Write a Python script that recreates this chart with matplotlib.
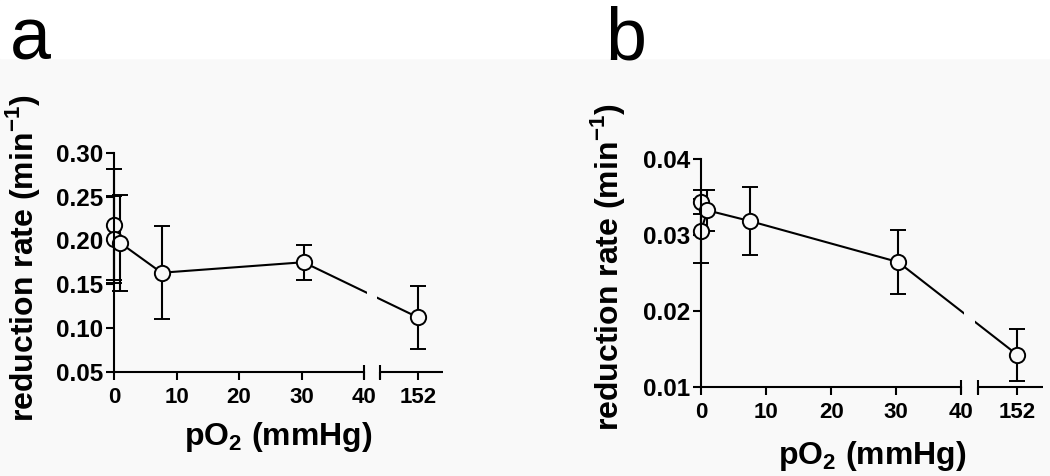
"""Reduction rate vs pO2, two panels with broken x axes."""

import numpy as np
import matplotlib
matplotlib.use("Agg")
import matplotlib.pyplot as plt
from matplotlib.patches import Rectangle

plt.rcParams['font.family'] = ['Liberation Sans', 'DejaVu Sans']
plt.rcParams['font.weight'] = 'bold'
plt.rcParams['axes.labelweight'] = 'bold'
plt.rcParams['mathtext.fontset'] = 'custom'
plt.rcParams['mathtext.rm'] = 'Liberation Sans:bold'
plt.rcParams['mathtext.bf'] = 'Liberation Sans:bold'

# panel a
po2_a = [0, 0, 1, 7.6, 30.3, 152]
rate_a = [0.218, 0.201, 0.197, 0.163, 0.175, 0.112]
err_a = [0.063, 0.050, 0.055, 0.053, 0.020, 0.036]

# panel b
po2_b = [0, 0, 1, 7.5, 30.3, 152]
rate_b = [0.0343, 0.0305, 0.0332, 0.0318, 0.0264, 0.0142]
err_b = [0.0016, 0.0042, 0.0027, 0.0045, 0.0042, 0.0034]

xticks = [0, 10, 20, 30, 40, 140, 152]
xticklabels = ['0', '10', '20', '30', '40', '', '152']
yticks_a = [0.05, 0.10, 0.15, 0.20, 0.25, 0.30]
yticks_b = [0.01, 0.02, 0.03, 0.04]

BG = '#f9f9f9'


def fwd(x):
    x = np.asarray(x, float)
    return np.where(x <= 40, x,
                    np.where(x < 140, 40 + (x - 40) * 0.026, 42.6 + (x - 140) * 0.5))


def inv(y):
    y = np.asarray(y, float)
    return np.where(y <= 40, y,
                    np.where(y < 42.6, 40 + (y - 40) / 0.026, 140 + (y - 42.6) / 0.5))


def draw_panel(ax, x, y, err, yticks, label_xy, xlabelpad):
    ax.set_xscale('function', functions=(fwd, inv))
    ax.errorbar(x, y, yerr=err, fmt='o-', color='k', lw=1.5, ms=11,
                mfc=BG, mec='k', mew=1.4, elinewidth=1.5, capsize=5.5,
                capthick=1.5, clip_on=False, zorder=2)
    # gap in the connecting line at the axis break
    ax.axvspan(55, 120, ymin=0.03, ymax=1, color=BG, lw=0, zorder=2.3)

    ax.set_xlim(0, 160)
    ax.set_ylim(yticks[0], yticks[-1])
    ax.set_facecolor('none')
    for s in ['top', 'right']:
        ax.spines[s].set_visible(False)
    for s in ['left', 'bottom']:
        ax.spines[s].set_linewidth(1.5)
    ax.spines['bottom'].set_bounds(0, 40)
    xt = ax.get_xaxis_transform()
    ax.plot([140, 160], [0, 0], color='k', lw=1.5, transform=xt,
            clip_on=False, solid_capstyle='butt')
    ax.plot([40, 140], [0, 0], ls='none', marker='|', ms=10, mew=1.5,
            color='k', transform=xt, clip_on=False)

    ax.set_xticks(xticks)
    ax.set_xticklabels(xticklabels)
    ax.xaxis.set_minor_locator(plt.NullLocator())
    ax.set_yticks(yticks)
    ax.set_yticklabels([f'{v:.2f}' for v in yticks], fontsize=17.5)
    ax.tick_params(axis='both', direction='out', length=5.5, width=1.5, pad=2)
    ax.tick_params(axis='x', labelsize=16, pad=5.5)

    ax.set_xlabel(r'pO$_{\mathbf{2}}$ (mmHg)', fontsize=23, fontweight='bold',
                  labelpad=xlabelpad)
    ax.set_ylabel(r'reduction rate (min$^{\mathbf{-1}}$)', fontsize=23,
                  fontweight='bold')
    ax.yaxis.set_label_coords(*label_xy)


fig = plt.figure(figsize=(10.5, 4.76), dpi=100, facecolor=BG)
fig.patches.append(Rectangle((0, 1 - 58 / 476), 1, 58 / 476,
                             transform=fig.transFigure, color='white', zorder=0))

ax_a = fig.add_axes([0.1086, 0.2191, 0.3133, 0.460])
ax_b = fig.add_axes([0.6676, 0.1876, 0.3260, 0.479])

draw_panel(ax_a, po2_a, rate_a, err_a, yticks_a, (-0.22, 0.52), 9)
draw_panel(ax_b, po2_b, rate_b, err_b, yticks_b, (-0.215, 0.526), 11.5)

fig.text(0.009, 0.874, 'a', fontsize=53, fontweight='normal', va='baseline')
fig.text(0.576, 0.874, 'b', fontsize=53, fontweight='normal', va='baseline')

fig.savefig('out.png', dpi=100, facecolor=fig.get_facecolor())
